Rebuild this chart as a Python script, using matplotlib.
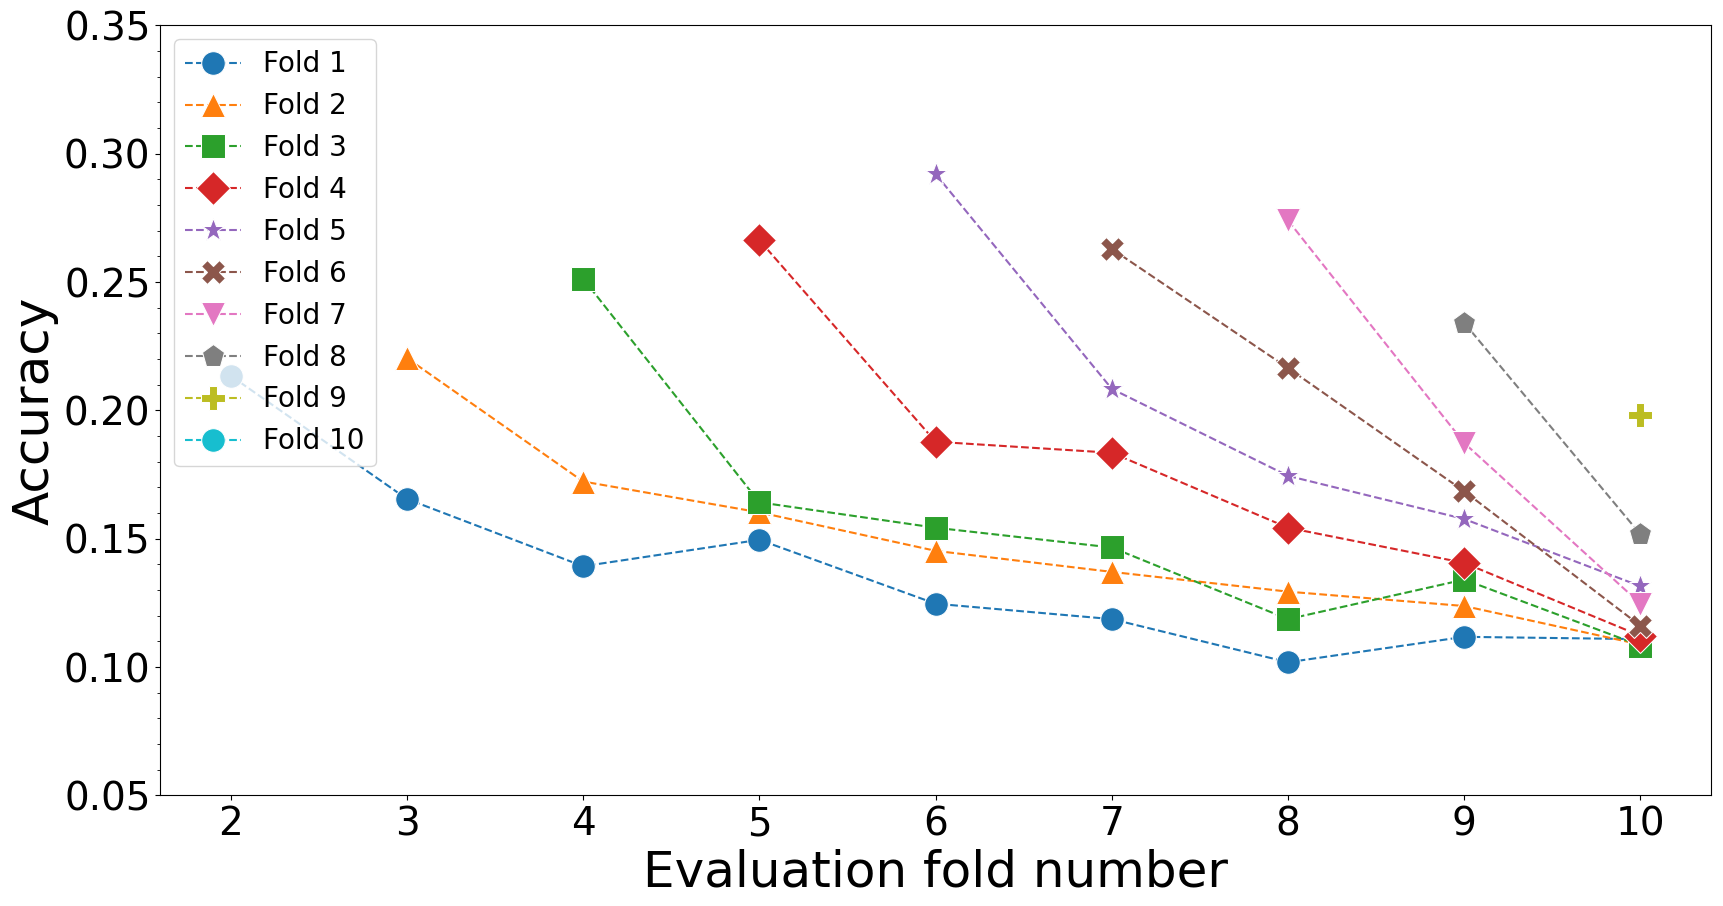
import matplotlib.pyplot as plt
from matplotlib.ticker import MultipleLocator

# accuracy per training fold, evaluated on the following folds
eval_folds = [2, 3, 4, 5, 6, 7, 8, 9, 10]
fold_1 = [0.2135, 0.1655, 0.1393, 0.1496, 0.1247, 0.1187, 0.1019, 0.1118, 0.1109]
fold_2 = [0.2204, 0.1723, 0.1603, 0.1453, 0.1371, 0.1294, 0.1238, 0.1088]
fold_3 = [0.2513, 0.1642, 0.1543, 0.1466, 0.1187, 0.1341, 0.1084]
fold_4 = [0.2663, 0.1878, 0.1835, 0.1543, 0.1406, 0.1122]
fold_5 = [0.2921, 0.2084, 0.1745, 0.1577, 0.1315]
fold_6 = [0.2629, 0.2165, 0.1685, 0.1161]
fold_7 = [0.2740, 0.1873, 0.1247]
fold_8 = [0.2341, 0.1517]
fold_9 = [0.1981]
fold_10 = []

series = [fold_1, fold_2, fold_3, fold_4, fold_5,
          fold_6, fold_7, fold_8, fold_9, fold_10]
markers = ['o', '^', 's', 'D', '*', 'X', 'v', 'p', 'P', 'o']

fig, ax = plt.subplots(figsize=(17.23, 9.06), dpi=100)

for i, acc in enumerate(series):
    xs = eval_folds[len(eval_folds) - len(acc):]
    ax.plot(xs, acc, linestyle='--', marker=markers[i], markersize=17,
            markeredgecolor='white', markeredgewidth=0.75, linewidth=1.5,
            color='C%d' % i, label='Fold %d' % (i + 1))

ax.set_xlim(1.6, 10.4)
ax.set_ylim(0.05, 0.35)
ax.set_xticks(eval_folds)
ax.yaxis.set_minor_locator(MultipleLocator(0.01))
ax.tick_params(axis='both', which='major', labelsize=28)
ax.set_xlabel('Evaluation fold number', fontsize=36)
ax.set_ylabel('Accuracy', fontsize=36)
ax.legend(loc='upper left', fontsize=20)

plt.subplots_adjust(left=0.093, right=0.993, top=0.972, bottom=0.122)
plt.savefig('out.png')
plt.close()
